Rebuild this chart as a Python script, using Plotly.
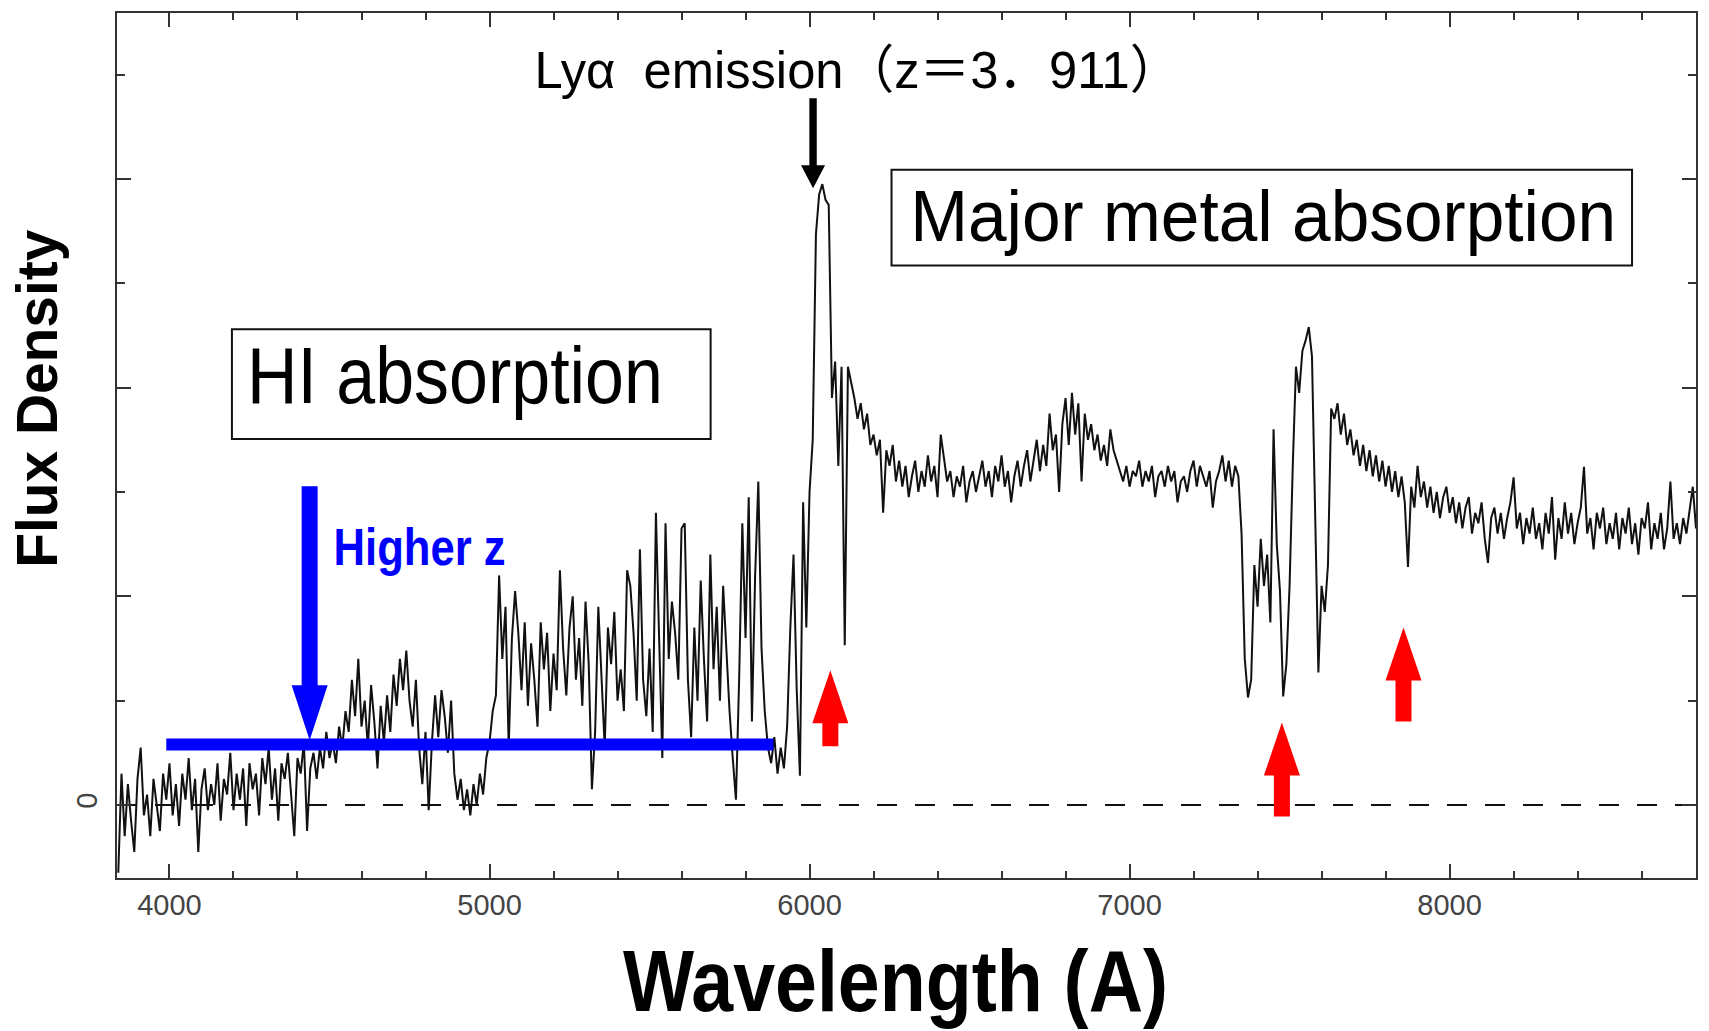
import json
import plotly.graph_objects as go

# ---------------- data ----------------
WAVE_START = 3840      # Angstrom, first sample
WAVE_STEP = 10         # Angstrom between samples

# flux density (arbitrary units, 1 unit = 1 y tick), one row per 100 A
FLUX_3800 = [-0.65, 0.30, -0.30, 0.20, -0.15, -0.45]                      # 3840-3890
FLUX_3900 = [0.25, 0.55, -0.10, 0.10, -0.30, 0.25, 0.00, -0.25, 0.30, 0.05]
FLUX_4000 = [0.40, -0.10, 0.20, -0.20, 0.30, 0.05, 0.45, -0.05, 0.25, -0.45]
FLUX_4100 = [0.15, 0.35, -0.05, 0.20, 0.00, 0.40, -0.15, 0.25, 0.10, 0.50]
FLUX_4200 = [-0.05, 0.30, 0.05, 0.35, -0.20, 0.40, 0.15, 0.30, -0.10, 0.45]
FLUX_4300 = [0.20, 0.55, 0.05, 0.35, -0.15, 0.40, 0.25, 0.50, 0.10, -0.30]
FLUX_4400 = [0.45, 0.30, 0.60, -0.25, 0.35, 0.50, 0.25, 0.55, 0.35, 0.70]
FLUX_4500 = [0.45, 0.60, 0.40, 0.75, 0.55, 0.90, 0.70, 1.20, 0.85, 1.40]
FLUX_4600 = [0.75, 1.00, 0.55, 1.15, 0.80, 0.35, 0.95, 0.60, 1.05, 0.70]
FLUX_4700 = [1.25, 0.95, 1.40, 1.10, 1.48, 1.00, 0.75, 1.20, 0.55, 0.20]
FLUX_4800 = [0.70, -0.05, 0.60, 1.05, 0.65, 1.10, 0.85, 0.50, 1.00, 0.30]
FLUX_4900 = [0.05, 0.25, -0.05, 0.15, -0.10, 0.20, 0.00, 0.30, 0.10, 0.45]
FLUX_5000 = [0.60, 0.90, 1.05, 2.20, 1.40, 1.90, 0.55, 1.60, 2.05, 1.65]
FLUX_5100 = [1.10, 1.75, 0.95, 1.55, 1.20, 0.75, 1.75, 1.30, 1.65, 0.90]
FLUX_5200 = [1.45, 1.10, 2.25, 1.50, 1.05, 1.70, 2.00, 1.20, 1.60, 0.95]
FLUX_5300 = [1.95, 1.35, 0.15, 0.70, 1.90, 1.20, 0.55, 1.70, 1.35, 1.85]
FLUX_5400 = [1.00, 1.30, 0.90, 2.25, 2.10, 1.65, 1.00, 2.45, 1.20, 0.85]
FLUX_5500 = [1.50, 0.70, 2.80, 1.60, 0.45, 2.70, 1.40, 1.95, 1.65, 1.20]
FLUX_5600 = [2.65, 2.70, 1.20, 0.65, 1.70, 1.00, 2.15, 1.40, 0.80, 2.40]
FLUX_5700 = [1.30, 1.90, 1.00, 2.10, 1.50, 0.90, 0.45, 0.05, 1.20, 2.70]
FLUX_5800 = [1.60, 2.95, 0.80, 2.20, 3.10, 1.50, 0.90, 0.55, 0.40, 0.65]
FLUX_5900 = [0.30, 0.55, 0.35, 0.75, 1.70, 2.40, 1.10, 0.28, 2.90, 1.70]
FLUX_6000 = [3.00, 3.50, 5.47, 5.85, 5.95, 5.80, 5.75, 3.90, 4.25, 3.25]
FLUX_6100 = [4.20, 1.53, 4.20, 4.05, 3.90, 3.70, 3.85, 3.60, 3.75, 3.45]
FLUX_6200 = [3.55, 3.35, 3.50, 2.80, 3.40, 3.25, 3.45, 3.10, 3.30, 3.05]
FLUX_6300 = [3.25, 2.95, 3.15, 3.30, 3.00, 3.20, 3.05, 3.35, 3.10, 3.25]
FLUX_6400 = [2.95, 3.55, 3.30, 3.10, 3.20, 2.95, 3.15, 3.05, 3.25, 2.90]
FLUX_6500 = [3.10, 3.20, 3.00, 3.15, 3.30, 3.05, 3.20, 2.95, 3.25, 3.10]
FLUX_6600 = [3.35, 3.05, 3.20, 2.90, 3.15, 3.30, 3.05, 3.25, 3.40, 3.10]
FLUX_6700 = [3.30, 3.50, 3.20, 3.45, 3.25, 3.75, 3.40, 3.55, 3.00, 3.65]
FLUX_6800 = [3.90, 3.45, 3.95, 3.55, 3.85, 3.10, 3.75, 3.50, 3.65, 3.40]
FLUX_6900 = [3.55, 3.30, 3.45, 3.25, 3.60, 3.40, 3.30, 3.20, 3.10, 3.25]
FLUX_7000 = [3.05, 3.20, 3.15, 3.30, 3.05, 3.20, 3.10, 3.25, 2.95, 3.15]
FLUX_7100 = [3.20, 3.05, 3.25, 3.10, 3.20, 2.90, 3.10, 3.15, 3.00, 3.20]
FLUX_7200 = [3.30, 3.05, 3.25, 3.15, 3.05, 3.20, 2.85, 3.10, 3.20, 3.35]
FLUX_7300 = [3.10, 3.30, 3.05, 3.25, 3.15, 2.60, 1.40, 1.03, 1.20, 2.30]
FLUX_7400 = [1.90, 2.55, 2.10, 2.40, 1.75, 3.60, 2.50, 2.05, 1.04, 1.35]
FLUX_7500 = [2.10, 3.25, 4.20, 3.95, 4.35, 4.45, 4.58, 4.30, 2.60, 1.27]
FLUX_7600 = [2.10, 1.85, 2.30, 3.80, 3.70, 3.85, 3.55, 3.75, 3.45, 3.60]
FLUX_7700 = [3.35, 3.50, 3.25, 3.45, 3.20, 3.40, 3.15, 3.35, 3.10, 3.30]
FLUX_7800 = [3.05, 3.25, 3.00, 3.20, 2.95, 3.15, 2.90, 2.28, 3.05, 2.85]
FLUX_7900 = [3.25, 2.95, 3.10, 2.85, 3.05, 2.80, 3.00, 2.75, 2.95, 3.05]
FLUX_8000 = [2.80, 2.95, 2.70, 2.90, 2.65, 2.85, 2.95, 2.60, 2.80, 2.70]
FLUX_8100 = [2.90, 2.55, 2.32, 2.75, 2.85, 2.60, 2.80, 2.55, 2.75, 2.90]
FLUX_8200 = [3.14, 2.65, 2.80, 2.50, 2.75, 2.60, 2.85, 2.55, 2.70, 2.45]
FLUX_8300 = [2.80, 2.60, 2.95, 2.35, 2.75, 2.55, 2.90, 2.60, 2.80, 2.50]
FLUX_8400 = [2.70, 2.85, 3.24, 2.60, 2.75, 2.45, 2.80, 2.65, 2.85, 2.50]
FLUX_8500 = [2.70, 2.55, 2.80, 2.45, 2.75, 2.60, 2.85, 2.50, 2.70, 2.40]
FLUX_8600 = [2.75, 2.65, 2.90, 2.45, 2.70, 2.55, 2.80, 2.45, 2.65, 3.10]
FLUX_8700 = [2.55, 2.70, 2.50, 2.75, 2.60, 2.85, 3.05, 2.65]                # 8700-8770

FLUX_ROWS = [FLUX_3800, FLUX_3900, FLUX_4000, FLUX_4100, FLUX_4200, FLUX_4300,
             FLUX_4400, FLUX_4500, FLUX_4600, FLUX_4700, FLUX_4800, FLUX_4900,
             FLUX_5000, FLUX_5100, FLUX_5200, FLUX_5300, FLUX_5400, FLUX_5500,
             FLUX_5600, FLUX_5700, FLUX_5800, FLUX_5900, FLUX_6000, FLUX_6100,
             FLUX_6200, FLUX_6300, FLUX_6400, FLUX_6500, FLUX_6600, FLUX_6700,
             FLUX_6800, FLUX_6900, FLUX_7000, FLUX_7100, FLUX_7200, FLUX_7300,
             FLUX_7400, FLUX_7500, FLUX_7600, FLUX_7700, FLUX_7800, FLUX_7900,
             FLUX_8000, FLUX_8100, FLUX_8200, FLUX_8300, FLUX_8400, FLUX_8500,
             FLUX_8600, FLUX_8700]
FLUX = [v for row in FLUX_ROWS for v in row]
WAVELENGTH = [WAVE_START + WAVE_STEP * i for i in range(len(FLUX))]

X_TICKS = [4000, 5000, 6000, 7000, 8000]
X_TICK_LABELS = ["4000", "5000", "6000", "7000", "8000"]
Y_TICKS = [0, 2, 4, 6]
Y_TICK_LABELS = ["0", "", "", ""]

# annotation anchors (data units)
HI_BAR = dict(x0=3990, x1=5887, y=0.58)
BLUE_ARROW = dict(x=4438, tip=0.62)
LYA_ARROW = dict(x=6011, tip=5.91)
RED_ARROWS_X = [6065, 7476, 7856]
RED_ARROWS_TIP = [1.29, 0.79, 1.70]
RED_ARROWS_LEN = [76, 94, 94]

# ---------------- layout geometry ----------------
W, H = 1709, 1031
ML, MR, MT, MB = 117, 12, 11, 153
PW, PH = W - ML - MR, H - MT - MB


def px(x):
    return (x - ML) / PW


def py(y):
    return (H - MB - y) / PH


SANS = "Liberation Sans, Arial, sans-serif"
SANS_CJK = "Liberation Sans, Noto Sans CJK JP, sans-serif"
AXIS_COL = "#333333"

fig = go.Figure()
fig.add_trace(go.Scatter(
    x=WAVELENGTH, y=FLUX, mode="lines",
    line=dict(color="#111111", width=2.0), showlegend=False, hoverinfo="skip"))


def arrow_path(length, head_len, head_half, shaft_half, down=False):
    s = -1 if not down else 1
    pts = [(0, 0), (head_half, s * head_len), (shaft_half, s * head_len),
           (shaft_half, s * length), (-shaft_half, s * length),
           (-shaft_half, s * head_len), (-head_half, s * head_len)]
    return "M" + " L".join(f"{a},{b}" for a, b in pts) + " Z"


shapes = []
shapes.append(dict(type="line", xref="paper", yref="y", x0=0, x1=1, y0=0, y1=0,
                   line=dict(color="#111", width=2, dash="20px,18px"), layer="below"))
shapes.append(dict(type="line", xref="x", yref="y", x0=HI_BAR["x0"], x1=HI_BAR["x1"],
                   y0=HI_BAR["y"], y1=HI_BAR["y"], line=dict(color="#0000ff", width=12)))
shapes.append(dict(type="path", xref="x", yref="y", xsizemode="pixel", ysizemode="pixel",
                   xanchor=BLUE_ARROW["x"], yanchor=BLUE_ARROW["tip"],
                   path=arrow_path(254, 55, 18, 8, down=True),
                   fillcolor="#0000ff", line=dict(width=0)))
shapes.append(dict(type="path", xref="x", yref="y", xsizemode="pixel", ysizemode="pixel",
                   xanchor=LYA_ARROW["x"], yanchor=LYA_ARROW["tip"],
                   path=arrow_path(90, 23, 12, 3.7, down=True),
                   fillcolor="#000000", line=dict(width=0)))
for xa, ya, ln in zip(RED_ARROWS_X, RED_ARROWS_TIP, RED_ARROWS_LEN):
    shapes.append(dict(type="path", xref="x", yref="y", xsizemode="pixel", ysizemode="pixel",
                       xanchor=xa, yanchor=ya, path=arrow_path(ln, 53, 18, 8),
                       fillcolor="#ff0000", line=dict(width=0)))
shapes.append(dict(type="rect", xref="paper", yref="paper", x0=px(232), x1=px(711),
                   y0=py(438), y1=py(328), line=dict(color="#111", width=2)))
shapes.append(dict(type="rect", xref="paper", yref="paper", x0=px(892), x1=px(1633),
                   y0=py(264), y1=py(168), line=dict(color="#111", width=2)))

# text, centre positions (pixels) and the width each text spans in the reference
TEXTS = [
    dict(text="HI absorption", cx=455, cy=374, width=416, size=80, weight="normal",
         color="#000", family=SANS),
    dict(text="Major metal absorption", cx=1264, cy=214, width=706, size=72, weight="normal",
         color="#000", family=SANS),
    dict(text="Lyα  emission（z＝3．911）", cx=858, cy=68, width=646, size=52,
         weight="normal", color="#000", family=SANS_CJK),
    dict(text="Higher z", cx=420, cy=546, width=172, size=52, weight="bold",
         color="#0000ff", family=SANS),
    dict(text="Wavelength (A)", cx=896, cy=981, width=545, size=88, weight="bold",
         color="#000", family=SANS),
    dict(text="Flux Density", cx=36, cy=398, width=338, size=58, weight="bold",
         color="#000", family=SANS, angle=-90),
]
annotations = []
for t in TEXTS:
    annotations.append(dict(text=t["text"], x=px(t["cx"]), y=py(t["cy"]), xref="paper",
                            yref="paper", xanchor="center", yanchor="middle", showarrow=False,
                            textangle=t.get("angle", 0),
                            font=dict(family=t["family"], size=t["size"], color=t["color"],
                                      weight=t["weight"])))

fig.update_layout(
    width=W, height=H, margin=dict(l=ML, r=MR, t=MT, b=MB, pad=0),
    paper_bgcolor="white", plot_bgcolor="white",
    shapes=shapes, annotations=annotations, showlegend=False,
    xaxis=dict(range=[3836, 8770], tickmode="array", tickvals=X_TICKS, ticktext=X_TICK_LABELS,
               ticks="inside", ticklen=14, tickwidth=1.5, tickcolor=AXIS_COL,
               minor=dict(ticks="inside", ticklen=7, tickwidth=1.5, tickcolor=AXIS_COL,
                          tickmode="linear", tick0=4000, dtick=200),
               showline=True, linecolor=AXIS_COL, linewidth=2, mirror="allticks",
               showgrid=False, zeroline=False, ticklabelstandoff=0,
               tickfont=dict(family=SANS, size=29, color="#444")),
    yaxis=dict(range=[-0.70, 7.59], tickmode="array", tickvals=Y_TICKS, ticktext=Y_TICK_LABELS,
               ticks="inside", ticklen=14, tickwidth=1.5, tickcolor=AXIS_COL, tickangle=-90,
               minor=dict(ticks="inside", ticklen=8, tickwidth=1.5, tickcolor=AXIS_COL,
                          tickmode="linear", tick0=0, dtick=1),
               showline=True, linecolor=AXIS_COL, linewidth=2, mirror="allticks",
               showgrid=False, zeroline=False, ticklabelstandoff=6,
               tickfont=dict(family=SANS, size=29, color="#444")),
)

# fit each annotation text to the width it spans in the reference (condensed lettering)
FIT = {t["text"]: t["width"] for t in TEXTS}
POST = """
var gd = document.getElementById('{plot_id}');
var fit = %s;
function fitTexts() {
  gd.querySelectorAll('text.annotation-text').forEach(function (el) {
    var w = fit[el.textContent];
    if (w) { el.setAttribute('textLength', w); el.setAttribute('lengthAdjust', 'spacingAndGlyphs'); }
  });
}
fitTexts();
gd.on('plotly_afterplot', fitTexts);
""" % json.dumps(FIT, ensure_ascii=False)

fig.write_html("out.html", config=dict(displayModeBar=False), post_script=POST)
